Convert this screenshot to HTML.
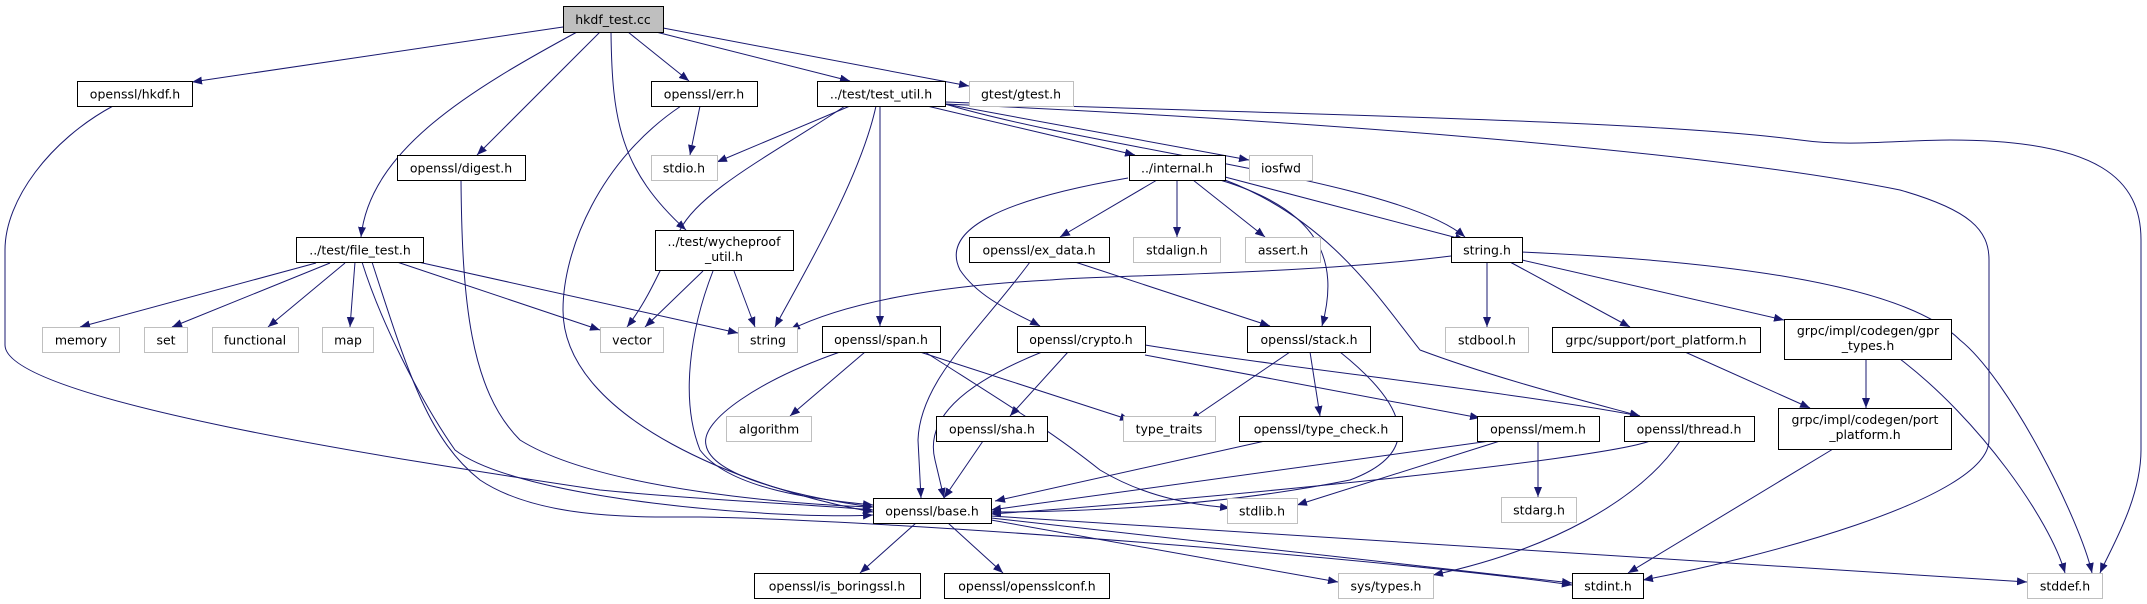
<!DOCTYPE html>
<html><head><meta charset="utf-8"><style>
html,body{margin:0;padding:0;background:#fff;}
svg{display:block;}
text{font-family:"DejaVu Sans","Liberation Sans",sans-serif;font-size:12.5px;fill:#000;}
.n{fill:#fff;stroke:#000;stroke-width:1;}
.g{fill:#fff;stroke:#bfbfbf;stroke-width:1;}
.e{fill:none;stroke:#191970;stroke-width:1;}
</style></head><body>
<svg width="2147" height="604" viewBox="0 0 2147 604" xmlns="http://www.w3.org/2000/svg">
<defs><marker id="a" markerWidth="10" markerHeight="8" refX="10" refY="4" orient="auto" markerUnits="userSpaceOnUse"><path d="M0,0 L10,4 L0,8 z" fill="#191970"/></marker></defs>
<g class="e" marker-end="url(#a)">
<path d="M563,27 L192,82"/>
<path d="M577,32 C470,90 370,150 361,237"/>
<path d="M600,32 L477,155"/>
<path d="M611,32 C612,120 620,170 686,230"/>
<path d="M628,32 L689,81"/>
<path d="M656,32 L850,81"/>
<path d="M663,28 L969,86"/>
<path d="M113,106 C50,140 5,200 5,250 L5,345 C5,400 400,460 600,490 C700,500 820,505 873,510"/>
<path d="M700,106 L690,155"/>
<path d="M681,106 C600,160 563,250 563,310 C563,420 750,490 873,512"/>
<path d="M461,180 C462,300 470,390 520,440 C600,490 800,505 873,507"/>
<path d="M316,263 L80,327"/>
<path d="M330,263 L172,327"/>
<path d="M345,263 L268,327"/>
<path d="M355,262 L350,327"/>
<path d="M397,262 L600,330"/>
<path d="M418,262 L738,333"/>
<path d="M362,262 C380,320 420,400 455,450 C520,500 780,520 873,515"/>
<path d="M372,262 C410,380 430,440 480,480 C540,520 640,517 700,517 C900,520 1400,560 1572,585"/>
<path d="M703,271 L645,327"/>
<path d="M734,271 L755,327"/>
<path d="M713,271 C690,330 680,400 700,450 C730,490 820,500 873,505"/>
<path d="M850,106 L717,162"/>
<path d="M845,106 C780,150 700,190 680,230 C660,270 648,300 627,327"/>
<path d="M876,106 C860,180 800,280 775,327"/>
<path d="M880,106 L880,326"/>
<path d="M927,106 L1135,155"/>
<path d="M945,104 L1249,160"/>
<path d="M945,104 C1100,150 1400,180 1465,237"/>
<path d="M945,104 C1300,120 1700,150 1900,190 C1970,210 1989,230 1989,260 L1989,440 C1989,500 1750,560 1643,580"/>
<path d="M945,102 C1300,115 1650,120 1800,140 C1850,147 1900,140 1950,140 C2100,140 2141,180 2141,240 L2141,450 C2141,500 2110,550 2100,573"/>
<path d="M1128,178 C1000,200 940,230 960,270 C980,300 1020,315 1040,326"/>
<path d="M1157,180 L1060,237"/>
<path d="M1177,180 L1177,237"/>
<path d="M1193,180 L1265,237"/>
<path d="M1225,177 L1465,240"/>
<path d="M1220,180 C1320,210 1340,260 1322,326"/>
<path d="M1225,180 C1330,220 1380,300 1420,350 C1500,380 1600,405 1640,416"/>
<path d="M1030,262 C980,330 920,380 918,440 L921,498"/>
<path d="M1075,262 L1270,326"/>
<path d="M1451,256 C1300,275 1100,275 1050,280 C950,285 850,300 790,330"/>
<path d="M1487,262 L1487,327"/>
<path d="M1510,262 L1630,327"/>
<path d="M1522,260 L1784,320"/>
<path d="M1522,252 C1700,260 1900,280 1960,340 C2010,380 2080,520 2092,573"/>
<path d="M840,352 C760,380 700,420 706,445 C712,480 820,500 873,507"/>
<path d="M865,352 L790,416"/>
<path d="M920,352 L1130,420"/>
<path d="M925,352 C1000,400 1050,430 1100,470 C1150,500 1200,505 1230,508"/>
<path d="M1042,352 C960,385 925,420 935,460 L944,498"/>
<path d="M1068,352 L1010,416"/>
<path d="M1145,355 L1480,418"/>
<path d="M1145,345 C1300,370 1500,390 1640,416"/>
<path d="M1290,352 L1190,420"/>
<path d="M1310,352 L1320,416"/>
<path d="M1340,352 C1400,400 1430,450 1350,480 C1200,510 1050,512 991,512"/>
<path d="M983,441 L944,498"/>
<path d="M1265,441 L995,501"/>
<path d="M1490,441 L991,510"/>
<path d="M1500,441 L1297,505"/>
<path d="M1538,441 L1538,497"/>
<path d="M1650,441 C1600,460 1200,500 991,514"/>
<path d="M1680,441 C1640,500 1550,550 1433,575"/>
<path d="M1685,352 L1810,408"/>
<path d="M1866,359 L1866,408"/>
<path d="M1900,359 C1980,420 2050,520 2065,573"/>
<path d="M1833,449 L1628,573"/>
<path d="M916,523 L860,573"/>
<path d="M948,523 L1003,573"/>
<path d="M991,520 L1338,582"/>
<path d="M991,518 L1572,583"/>
<path d="M991,516 L2027,582"/>
</g>
<g>
<rect x="563.5" y="6.5" width="100" height="26" fill="#bfbfbf" stroke="#000"/><text x="613" y="24" text-anchor="middle">hkdf_test.cc</text>
<rect class="n" x="77.5" y="81.5" width="115" height="25"/><text x="135" y="98.5" text-anchor="middle">openssl/hkdf.h</text>
<rect class="n" x="651.5" y="81.5" width="106" height="25"/><text x="704" y="98.5" text-anchor="middle">openssl/err.h</text>
<rect class="n" x="817.5" y="81.5" width="128" height="25"/><text x="881" y="98.5" text-anchor="middle">../test/test_util.h</text>
<rect class="g" x="969.5" y="81.5" width="104" height="25"/><text x="1021" y="98.5" text-anchor="middle">gtest/gtest.h</text>
<rect class="g" x="651.5" y="155.5" width="66" height="25"/><text x="684" y="172.5" text-anchor="middle">stdio.h</text>
<rect class="n" x="397.5" y="155.5" width="128" height="25"/><text x="461" y="172.5" text-anchor="middle">openssl/digest.h</text>
<rect class="n" x="1129.5" y="155.5" width="96" height="25"/><text x="1177" y="172.5" text-anchor="middle">../internal.h</text>
<rect class="g" x="1249.5" y="155.5" width="63" height="25"/><text x="1281" y="172.5" text-anchor="middle">iosfwd</text>
<rect class="n" x="296.5" y="237.5" width="127" height="25"/><text x="360" y="254.5" text-anchor="middle">../test/file_test.h</text>
<rect class="n" x="655.5" y="230.5" width="138" height="40"/><text x="724" y="246" text-anchor="middle">../test/wycheproof</text><text x="724" y="261" text-anchor="middle">_util.h</text>
<rect class="n" x="969.5" y="237.5" width="140" height="25"/><text x="1039" y="254.5" text-anchor="middle">openssl/ex_data.h</text>
<rect class="g" x="1133.5" y="237.5" width="87" height="25"/><text x="1177" y="254.5" text-anchor="middle">stdalign.h</text>
<rect class="g" x="1245.5" y="237.5" width="75" height="25"/><text x="1283" y="254.5" text-anchor="middle">assert.h</text>
<rect class="n" x="1451.5" y="237.5" width="71" height="25"/><text x="1487" y="254.5" text-anchor="middle">string.h</text>
<rect class="g" x="42.5" y="327.5" width="77" height="25"/><text x="81" y="344.5" text-anchor="middle">memory</text>
<rect class="g" x="144.5" y="327.5" width="43" height="25"/><text x="166" y="344.5" text-anchor="middle">set</text>
<rect class="g" x="212.5" y="327.5" width="86" height="25"/><text x="255" y="344.5" text-anchor="middle">functional</text>
<rect class="g" x="322.5" y="327.5" width="51" height="25"/><text x="348" y="344.5" text-anchor="middle">map</text>
<rect class="g" x="600.5" y="327.5" width="63" height="25"/><text x="632" y="344.5" text-anchor="middle">vector</text>
<rect class="g" x="738.5" y="327.5" width="59" height="25"/><text x="768" y="344.5" text-anchor="middle">string</text>
<rect class="n" x="822.5" y="326.5" width="118" height="26"/><text x="881" y="344" text-anchor="middle">openssl/span.h</text>
<rect class="n" x="1017.5" y="326.5" width="128" height="26"/><text x="1081" y="344" text-anchor="middle">openssl/crypto.h</text>
<rect class="n" x="1247.5" y="326.5" width="123" height="26"/><text x="1309" y="344" text-anchor="middle">openssl/stack.h</text>
<rect class="g" x="1445.5" y="327.5" width="83" height="25"/><text x="1487" y="344.5" text-anchor="middle">stdbool.h</text>
<rect class="n" x="1552.5" y="327.5" width="208" height="25"/><text x="1656" y="344.5" text-anchor="middle">grpc/support/port_platform.h</text>
<rect class="n" x="1784.5" y="319.5" width="167" height="40"/><text x="1868" y="335" text-anchor="middle">grpc/impl/codegen/gpr</text><text x="1868" y="350" text-anchor="middle">_types.h</text>
<rect class="g" x="726.5" y="416.5" width="85" height="25"/><text x="769" y="433.5" text-anchor="middle">algorithm</text>
<rect class="n" x="936.5" y="416.5" width="111" height="25"/><text x="992" y="433.5" text-anchor="middle">openssl/sha.h</text>
<rect class="g" x="1123.5" y="416.5" width="92" height="25"/><text x="1169" y="433.5" text-anchor="middle">type_traits</text>
<rect class="n" x="1239.5" y="416.5" width="163" height="25"/><text x="1321" y="433.5" text-anchor="middle">openssl/type_check.h</text>
<rect class="n" x="1477.5" y="416.5" width="122" height="25"/><text x="1538" y="433.5" text-anchor="middle">openssl/mem.h</text>
<rect class="n" x="1624.5" y="416.5" width="130" height="25"/><text x="1689" y="433.5" text-anchor="middle">openssl/thread.h</text>
<rect class="n" x="1778.5" y="408.5" width="173" height="41"/><text x="1865" y="424" text-anchor="middle">grpc/impl/codegen/port</text><text x="1865" y="439" text-anchor="middle">_platform.h</text>
<rect class="n" x="873.5" y="498.5" width="118" height="25"/><text x="932" y="515.5" text-anchor="middle">openssl/base.h</text>
<rect class="g" x="1227.5" y="498.5" width="70" height="25"/><text x="1262" y="515.5" text-anchor="middle">stdlib.h</text>
<rect class="g" x="1501.5" y="497.5" width="75" height="25"/><text x="1539" y="514.5" text-anchor="middle">stdarg.h</text>
<rect class="n" x="754.5" y="573.5" width="166" height="25"/><text x="837" y="590.5" text-anchor="middle">openssl/is_boringssl.h</text>
<rect class="n" x="944.5" y="573.5" width="165" height="25"/><text x="1027" y="590.5" text-anchor="middle">openssl/opensslconf.h</text>
<rect class="g" x="1338.5" y="573.5" width="95" height="25"/><text x="1386" y="590.5" text-anchor="middle">sys/types.h</text>
<rect class="n" x="1572.5" y="573.5" width="71" height="25"/><text x="1608" y="590.5" text-anchor="middle">stdint.h</text>
<rect class="g" x="2027.5" y="573.5" width="75" height="25"/><text x="2065" y="590.5" text-anchor="middle">stddef.h</text>
</g>
</svg>
</body></html>
